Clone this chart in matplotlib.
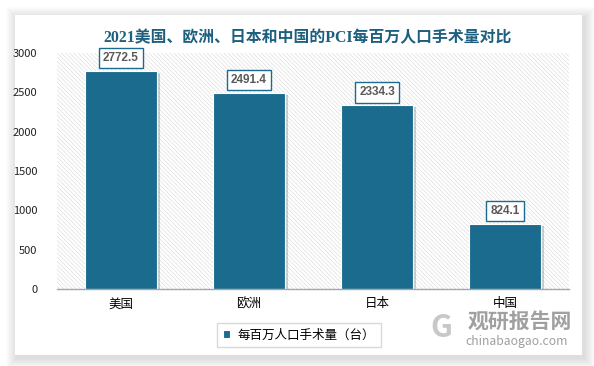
import matplotlib

matplotlib.use("Agg")
import matplotlib.pyplot as plt
from matplotlib.patches import Rectangle
import matplotlib.patheffects as pe

plt.rcParams['font.family'] = ['Noto Sans CJK SC', 'DejaVu Sans']
plt.rcParams['hatch.linewidth'] = 0.4

# data
regions = ["美国", "欧洲", "日本", "中国"]
values = [2772.5, 2491.4, 2334.3, 824.1]
yticks = [0, 500, 1000, 1500, 2000, 2500, 3000]
series_name = "每百万人口手术量（台）"
title = "2021美国、欧洲、日本和中国的PCI每百万人口手术量对比"

bar_color = "#1b6b8f"
title_color = "#1d5f7e"

W, H = 594, 366
fig = plt.figure(figsize=(W / 100, H / 100), dpi=100)
fig.patch.set_facecolor("white")

# card with a soft shadow
cx0, cy0, cx1, cy1 = 15, 15, 582, 355
for d in range(1, 12):
    fig.patches.append(Rectangle(((cx0 - d + 2) / W, 1 - (cy1 + d + 3) / H),
                                 (cx1 - cx0 + 2 * d) / W, (cy1 - cy0 + 2 * d) / H,
                                 transform=fig.transFigure, facecolor="black",
                                 edgecolor="none", alpha=0.012, zorder=-3))
fig.patches.append(Rectangle((cx0 / W, 1 - cy1 / H), (cx1 - cx0) / W, (cy1 - cy0) / H,
                             transform=fig.transFigure, facecolor="white",
                             edgecolor="none", zorder=-2))

ax = fig.add_axes([57 / W, 1 - 289 / H, (569 - 57) / W, (289 - 53) / H])
ax.set_facecolor("none")

x = list(range(len(regions)))
ax.set_xlim(-0.5, 3.5)
ax.set_ylim(0, 3000)

ax.add_patch(Rectangle((0, 0), 1, 1, transform=ax.transAxes, facecolor="white",
                       edgecolor="#d8d8d8", hatch="\\\\\\\\\\\\\\\\", linewidth=0, zorder=0))

bars = ax.bar(x, values, width=0.57, color=bar_color, label=series_name, zorder=2,
              edgecolor="white", linewidth=0.8)
for b in bars:
    b.set_path_effects([pe.SimplePatchShadow(offset=(1.5, -1.5), alpha=0.2), pe.Normal()])

for xi, v in zip(x, values):
    ax.annotate(f"{v:.1f}", (xi, v), xytext=(0, 13), textcoords="offset pixels",
                ha="center", va="center", fontsize=8.5, fontweight="bold", color="#595959",
                family=["Liberation Sans"],
                bbox=dict(boxstyle="square,pad=0.35", facecolor="white",
                          edgecolor=bar_color, linewidth=1.0), zorder=4)

ax.set_yticks(yticks)
ax.set_yticklabels([str(t) for t in yticks], fontsize=8, color="#222222")
ax.set_xticks(x)
ax.set_xticklabels(regions, fontsize=9, color="black")
ax.tick_params(axis="both", length=0)
ax.tick_params(axis="y", pad=14)
ax.tick_params(axis="x", pad=6)
for s in ["top", "right", "left"]:
    ax.spines[s].set_visible(False)
ax.spines["bottom"].set_color("#a6a6a6")
ax.spines["bottom"].set_linewidth(1.0)

fig.text(308 / W, 1 - 38 / H, title, ha="center", va="center", fontsize=11.4,
         fontweight="bold", color=title_color,
         family=["Liberation Serif", "Noto Sans CJK SC"])

leg = fig.legend(handles=[bars], labels=[series_name], loc="center",
                 bbox_to_anchor=(299 / W, 1 - 335 / H), fontsize=9, frameon=True,
                 fancybox=False, handlelength=0.6, handleheight=0.6,
                 borderpad=0.45, handletextpad=0.6, borderaxespad=0)
leg.get_frame().set_edgecolor("#d0d0d0")
leg.get_frame().set_linewidth(1.0)
leg.legend_handles[0].set_path_effects([])

# watermark
fig.text(520 / W, 1 - 321 / H, "观研报告网", ha="center", va="center", fontsize=15,
         fontweight="bold", color="#a0a0a0")
fig.text(517 / W, 1 - 341 / H, "chinabaogao.com", ha="center", va="center", fontsize=8.8,
         color="#a0a0a0")
fig.text(441 / W, 1 - 328 / H, "G", ha="center", va="center", fontsize=22,
         fontweight="bold", color="#c8c8c8")

fig.savefig("out.png", dpi=100)
